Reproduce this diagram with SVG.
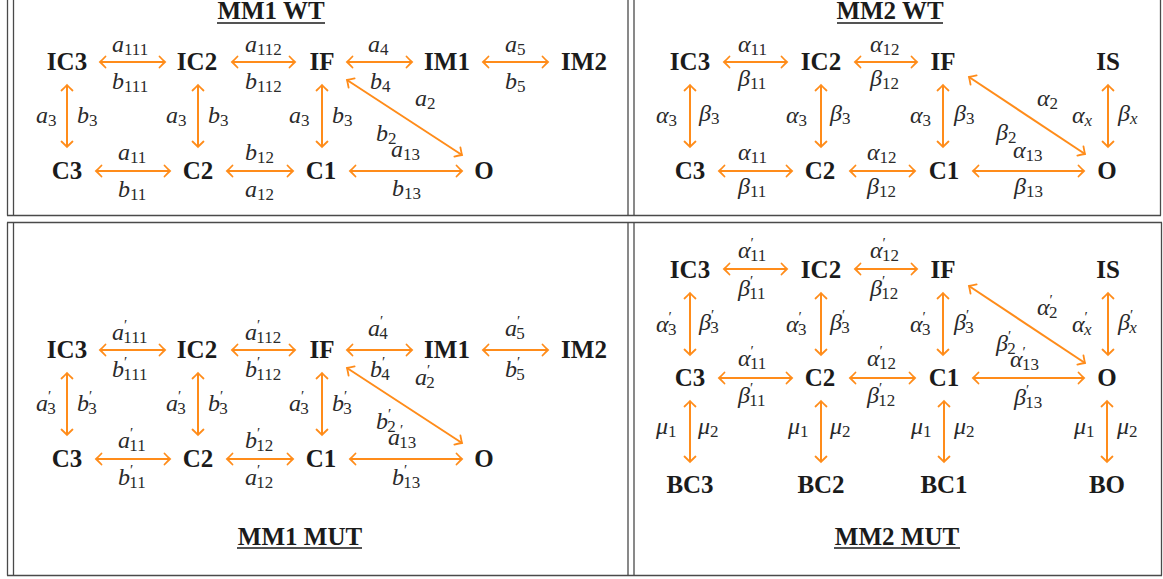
<svg xmlns="http://www.w3.org/2000/svg" width="1163" height="579" viewBox="0 0 1163 579">
<defs>
<marker id="ah" markerUnits="userSpaceOnUse" markerWidth="14" markerHeight="14" viewBox="-8 -7 10 14" refX="0" refY="0" orient="auto-start-reverse">
<path d="M-5.5,-5.5 Q-1.8,-1.6 0,0 Q-1.8,1.6 -5.5,5.5" fill="none" stroke="#FF8C1A" stroke-width="1.8" stroke-linecap="round"/>
</marker>
<style>
.n{font-family:"Liberation Serif","Times New Roman",serif;font-weight:bold;font-size:25px;fill:#1b1b1b;text-anchor:middle}
.m{font-family:"Liberation Serif","Times New Roman",serif;font-style:italic;font-size:24px;fill:#2a2a2a}
.s{font-size:17px;font-style:normal}
.si{font-size:17px;font-style:italic}
.p{font-size:15px;font-style:normal}
.c line{stroke:#FF8C1A;stroke-width:2;fill:none;marker-start:url(#ah);marker-end:url(#ah)}
.g line{stroke:#4a4a4a;stroke-width:1.3}
.u{stroke:#1b1b1b;stroke-width:1.4}
</style>
</defs>
<rect width="1163" height="579" fill="#ffffff"/>

<g id="table" class="g">
<line x1="7.5" y1="0" x2="7.5" y2="215.5"/>
<line x1="13.5" y1="0" x2="13.5" y2="215.5"/>
<line x1="628" y1="0" x2="628" y2="215.5"/>
<line x1="634" y1="0" x2="634" y2="215.5"/>
<line x1="1160.5" y1="0" x2="1160.5" y2="215.5"/>
<line x1="7" y1="215.5" x2="1161" y2="215.5"/>
<line x1="7" y1="222.5" x2="1162" y2="222.5"/>
<line x1="7.5" y1="222.5" x2="7.5" y2="575.5"/>
<line x1="13.5" y1="222.5" x2="13.5" y2="575.5"/>
<line x1="628" y1="222.5" x2="628" y2="575.5"/>
<line x1="634" y1="222.5" x2="634" y2="575.5"/>
<line x1="1161.5" y1="222.5" x2="1161.5" y2="575.5"/>
<line x1="7" y1="575.5" x2="1162" y2="575.5"/>
</g>

<g id="titles">
<text class="n" x="271" y="19">MM1 WT</text><line class="u" x1="217" y1="23" x2="325" y2="23"/>
<text class="n" x="890" y="19">MM2 WT</text><line class="u" x1="837" y1="23" x2="943" y2="23"/>
<text class="n" x="300" y="545">MM1 MUT</text><line class="u" x1="237" y1="548" x2="362" y2="548"/>
<text class="n" x="897" y="545">MM2 MUT</text><line class="u" x1="834" y1="548" x2="960" y2="548"/>
</g>

<!-- MM1 WT nodes -->
<g id="mm1wt-IC3"><text class="n" x="67" y="70">IC3</text></g>
<g id="mm1wt-IC2"><text class="n" x="197" y="70">IC2</text></g>
<g id="mm1wt-IF"><text class="n" x="322" y="70">IF</text></g>
<g id="mm1wt-IM1"><text class="n" x="447" y="70">IM1</text></g>
<g id="mm1wt-IM2"><text class="n" x="584" y="70">IM2</text></g>
<g id="mm1wt-C3"><text class="n" x="67" y="179">C3</text></g>
<g id="mm1wt-C2"><text class="n" x="198" y="179">C2</text></g>
<g id="mm1wt-C1"><text class="n" x="321" y="179">C1</text></g>
<g id="mm1wt-O"><text class="n" x="484" y="179">O</text></g>

<!-- MM1 MUT nodes -->
<g id="mm1mut-IC3"><text class="n" x="67" y="358">IC3</text></g>
<g id="mm1mut-IC2"><text class="n" x="197" y="358">IC2</text></g>
<g id="mm1mut-IF"><text class="n" x="322" y="358">IF</text></g>
<g id="mm1mut-IM1"><text class="n" x="447" y="358">IM1</text></g>
<g id="mm1mut-IM2"><text class="n" x="584" y="358">IM2</text></g>
<g id="mm1mut-C3"><text class="n" x="67" y="467">C3</text></g>
<g id="mm1mut-C2"><text class="n" x="198" y="467">C2</text></g>
<g id="mm1mut-C1"><text class="n" x="321" y="467">C1</text></g>
<g id="mm1mut-O"><text class="n" x="484" y="467">O</text></g>

<!-- MM2 WT nodes -->
<g id="mm2wt-IC3"><text class="n" x="690" y="70">IC3</text></g>
<g id="mm2wt-IC2"><text class="n" x="821" y="70">IC2</text></g>
<g id="mm2wt-IF"><text class="n" x="943" y="70">IF</text></g>
<g id="mm2wt-IS"><text class="n" x="1108" y="70">IS</text></g>
<g id="mm2wt-C3"><text class="n" x="690" y="179">C3</text></g>
<g id="mm2wt-C2"><text class="n" x="820" y="179">C2</text></g>
<g id="mm2wt-C1"><text class="n" x="944" y="179">C1</text></g>
<g id="mm2wt-O"><text class="n" x="1107" y="179">O</text></g>

<!-- MM2 MUT nodes -->
<g id="mm2mut-IC3"><text class="n" x="690" y="278">IC3</text></g>
<g id="mm2mut-IC2"><text class="n" x="821" y="278">IC2</text></g>
<g id="mm2mut-IF"><text class="n" x="943" y="278">IF</text></g>
<g id="mm2mut-IS"><text class="n" x="1108" y="278">IS</text></g>
<g id="mm2mut-C3"><text class="n" x="690" y="386">C3</text></g>
<g id="mm2mut-C2"><text class="n" x="820" y="386">C2</text></g>
<g id="mm2mut-C1"><text class="n" x="944" y="386">C1</text></g>
<g id="mm2mut-O"><text class="n" x="1107" y="386">O</text></g>
<g id="mm2mut-BC3"><text class="n" x="690" y="493">BC3</text></g>
<g id="mm2mut-BC2"><text class="n" x="821" y="493">BC2</text></g>
<g id="mm2mut-BC1"><text class="n" x="944" y="493">BC1</text></g>
<g id="mm2mut-BO"><text class="n" x="1107" y="493">BO</text></g>

<g id="connectors" class="c">
<!-- MM1 WT -->
<line x1="100" y1="62" x2="165" y2="62"/>
<line x1="232" y1="62" x2="295" y2="62"/>
<line x1="347" y1="62" x2="412" y2="62"/>
<line x1="483" y1="62" x2="548" y2="62"/>
<line x1="96" y1="171" x2="170" y2="171"/>
<line x1="227" y1="171" x2="293" y2="171"/>
<line x1="350" y1="171" x2="462" y2="171"/>
<line x1="67" y1="85" x2="67" y2="147"/>
<line x1="198" y1="85" x2="198" y2="147"/>
<line x1="322" y1="85" x2="322" y2="147"/>
<line x1="347" y1="80" x2="462" y2="155"/>
<!-- MM1 MUT -->
<line x1="100" y1="350" x2="165" y2="350"/>
<line x1="232" y1="350" x2="295" y2="350"/>
<line x1="347" y1="350" x2="412" y2="350"/>
<line x1="483" y1="350" x2="548" y2="350"/>
<line x1="96" y1="459" x2="170" y2="459"/>
<line x1="227" y1="459" x2="293" y2="459"/>
<line x1="350" y1="459" x2="462" y2="459"/>
<line x1="67" y1="373" x2="67" y2="435"/>
<line x1="198" y1="373" x2="198" y2="435"/>
<line x1="322" y1="373" x2="322" y2="435"/>
<line x1="347" y1="368" x2="462" y2="443"/>
<!-- MM2 WT -->
<line x1="724" y1="62" x2="787" y2="62"/>
<line x1="855" y1="62" x2="917" y2="62"/>
<line x1="719" y1="171" x2="792" y2="171"/>
<line x1="850" y1="171" x2="915" y2="171"/>
<line x1="973" y1="171" x2="1084" y2="171"/>
<line x1="690" y1="85" x2="690" y2="147"/>
<line x1="821" y1="85" x2="821" y2="147"/>
<line x1="943" y1="85" x2="943" y2="147"/>
<line x1="1108" y1="85" x2="1108" y2="147"/>
<line x1="969" y1="77" x2="1085" y2="154"/>
<!-- MM2 MUT -->
<line x1="724" y1="269" x2="787" y2="269"/>
<line x1="855" y1="269" x2="917" y2="269"/>
<line x1="719" y1="378" x2="792" y2="378"/>
<line x1="850" y1="378" x2="915" y2="378"/>
<line x1="973" y1="378" x2="1084" y2="378"/>
<line x1="690" y1="293" x2="690" y2="355"/>
<line x1="821" y1="293" x2="821" y2="355"/>
<line x1="943" y1="293" x2="943" y2="355"/>
<line x1="1108" y1="293" x2="1108" y2="355"/>
<line x1="969" y1="286" x2="1085" y2="363"/>
<line x1="690" y1="401" x2="690" y2="462"/>
<line x1="821" y1="401" x2="821" y2="462"/>
<line x1="944" y1="401" x2="944" y2="462"/>
<line x1="1107" y1="401" x2="1107" y2="462"/>
</g>

<g id="labels-mm1wt">
<text class="m" x="112" y="52">a<tspan class="s" dy="3">111</tspan></text>
<text class="m" x="112" y="89">b<tspan class="s" dy="3">111</tspan></text>
<text class="m" x="245" y="52">a<tspan class="s" dy="3">112</tspan></text>
<text class="m" x="245" y="89">b<tspan class="s" dy="3">112</tspan></text>
<text class="m" x="368" y="52">a<tspan class="s" dy="3">4</tspan></text>
<text class="m" x="370" y="89">b<tspan class="s" dy="3">4</tspan></text>
<text class="m" x="505" y="52">a<tspan class="s" dy="3">5</tspan></text>
<text class="m" x="505" y="89">b<tspan class="s" dy="3">5</tspan></text>
<text class="m" x="36" y="123">a<tspan class="s" dy="3">3</tspan></text>
<text class="m" x="77" y="123">b<tspan class="s" dy="3">3</tspan></text>
<text class="m" x="166" y="123">a<tspan class="s" dy="3">3</tspan></text>
<text class="m" x="208" y="123">b<tspan class="s" dy="3">3</tspan></text>
<text class="m" x="289" y="123">a<tspan class="s" dy="3">3</tspan></text>
<text class="m" x="332" y="123">b<tspan class="s" dy="3">3</tspan></text>
<text class="m" x="415" y="106">a<tspan class="s" dy="3">2</tspan></text>
<text class="m" x="376" y="141">b<tspan class="s" dy="3">2</tspan></text>
<text class="m" x="391" y="157">a<tspan class="s" dy="3">13</tspan></text>
<text class="m" x="392" y="196">b<tspan class="s" dy="3">13</tspan></text>
<text class="m" x="118" y="160">a<tspan class="s" dy="3">11</tspan></text>
<text class="m" x="118" y="197">b<tspan class="s" dy="3">11</tspan></text>
<text class="m" x="245" y="160">b<tspan class="s" dy="3">12</tspan></text>
<text class="m" x="245" y="197">a<tspan class="s" dy="3">12</tspan></text>
</g>

<g id="labels-mm1mut">
<text class="m" x="112" y="340">a<tspan class="p" dy="-10">′</tspan><tspan class="s" dx="-4" dy="13">111</tspan></text>
<text class="m" x="112" y="377">b<tspan class="p" dy="-10">′</tspan><tspan class="s" dx="-4" dy="13">111</tspan></text>
<text class="m" x="245" y="340">a<tspan class="p" dy="-10">′</tspan><tspan class="s" dx="-4" dy="13">112</tspan></text>
<text class="m" x="245" y="377">b<tspan class="p" dy="-10">′</tspan><tspan class="s" dx="-4" dy="13">112</tspan></text>
<text class="m" x="368" y="336">a<tspan class="p" dy="-10">′</tspan><tspan class="s" dx="-4" dy="13">4</tspan></text>
<text class="m" x="370" y="377">b<tspan class="p" dy="-10">′</tspan><tspan class="s" dx="-4" dy="13">4</tspan></text>
<text class="m" x="505" y="336">a<tspan class="p" dy="-10">′</tspan><tspan class="s" dx="-4" dy="13">5</tspan></text>
<text class="m" x="505" y="377">b<tspan class="p" dy="-10">′</tspan><tspan class="s" dx="-4" dy="13">5</tspan></text>
<text class="m" x="36" y="411">a<tspan class="p" dy="-10">′</tspan><tspan class="s" dx="-4" dy="13">3</tspan></text>
<text class="m" x="77" y="411">b<tspan class="p" dy="-10">′</tspan><tspan class="s" dx="-4" dy="13">3</tspan></text>
<text class="m" x="166" y="411">a<tspan class="p" dy="-10">′</tspan><tspan class="s" dx="-4" dy="13">3</tspan></text>
<text class="m" x="208" y="411">b<tspan class="p" dy="-10">′</tspan><tspan class="s" dx="-4" dy="13">3</tspan></text>
<text class="m" x="289" y="411">a<tspan class="p" dy="-10">′</tspan><tspan class="s" dx="-4" dy="13">3</tspan></text>
<text class="m" x="332" y="411">b<tspan class="p" dy="-10">′</tspan><tspan class="s" dx="-4" dy="13">3</tspan></text>
<text class="m" x="415" y="385">a<tspan class="p" dy="-10">′</tspan><tspan class="s" dx="-4" dy="13">2</tspan></text>
<text class="m" x="376" y="429">b<tspan class="p" dy="-10">′</tspan><tspan class="s" dx="-4" dy="13">2</tspan></text>
<text class="m" x="388" y="445">a<tspan class="p" dy="-10">′</tspan><tspan class="s" dx="-4" dy="13">13</tspan></text>
<text class="m" x="392" y="485">b<tspan class="p" dy="-10">′</tspan><tspan class="s" dx="-4" dy="13">13</tspan></text>
<text class="m" x="118" y="448">a<tspan class="p" dy="-10">′</tspan><tspan class="s" dx="-4" dy="13">11</tspan></text>
<text class="m" x="118" y="485">b<tspan class="p" dy="-10">′</tspan><tspan class="s" dx="-4" dy="13">11</tspan></text>
<text class="m" x="245" y="448">b<tspan class="p" dy="-10">′</tspan><tspan class="s" dx="-4" dy="13">12</tspan></text>
<text class="m" x="245" y="485">a<tspan class="p" dy="-10">′</tspan><tspan class="s" dx="-4" dy="13">12</tspan></text>
</g>

<g id="labels-mm2wt">
<text class="m" x="738" y="52">α<tspan class="s" dy="3">11</tspan></text>
<text class="m" x="738" y="86">β<tspan class="s" dy="3">11</tspan></text>
<text class="m" x="870" y="52">α<tspan class="s" dy="3">12</tspan></text>
<text class="m" x="870" y="86">β<tspan class="s" dy="3">12</tspan></text>
<text class="m" x="656" y="123">α<tspan class="s" dy="3">3</tspan></text>
<text class="m" x="699" y="121">β<tspan class="s" dy="3">3</tspan></text>
<text class="m" x="786" y="123">α<tspan class="s" dy="3">3</tspan></text>
<text class="m" x="830" y="121">β<tspan class="s" dy="3">3</tspan></text>
<text class="m" x="910" y="123">α<tspan class="s" dy="3">3</tspan></text>
<text class="m" x="954" y="121">β<tspan class="s" dy="3">3</tspan></text>
<text class="m" x="1037" y="106">α<tspan class="s" dy="3">2</tspan></text>
<text class="m" x="1072" y="123">α<tspan class="si" dy="3">x</tspan></text>
<text class="m" x="1118" y="121">β<tspan class="si" dy="3">x</tspan></text>
<text class="m" x="996" y="140">β<tspan class="s" dy="3">2</tspan></text>
<text class="m" x="1013" y="158">α<tspan class="s" dy="3">13</tspan></text>
<text class="m" x="1014" y="194">β<tspan class="s" dy="3">13</tspan></text>
<text class="m" x="738" y="160">α<tspan class="s" dy="3">11</tspan></text>
<text class="m" x="738" y="194">β<tspan class="s" dy="3">11</tspan></text>
<text class="m" x="867" y="160">α<tspan class="s" dy="3">12</tspan></text>
<text class="m" x="867" y="194">β<tspan class="s" dy="3">12</tspan></text>
</g>

<g id="labels-mm2mut">
<text class="m" x="738" y="258">α<tspan class="p" dy="-10">′</tspan><tspan class="s" dx="-4" dy="13">11</tspan></text>
<text class="m" x="738" y="296">β<tspan class="p" dy="-10">′</tspan><tspan class="s" dx="-4" dy="13">11</tspan></text>
<text class="m" x="870" y="258">α<tspan class="p" dy="-10">′</tspan><tspan class="s" dx="-4" dy="13">12</tspan></text>
<text class="m" x="870" y="296">β<tspan class="p" dy="-10">′</tspan><tspan class="s" dx="-4" dy="13">12</tspan></text>
<text class="m" x="656" y="332">α<tspan class="p" dy="-10">′</tspan><tspan class="s" dx="-4" dy="13">3</tspan></text>
<text class="m" x="699" y="330">β<tspan class="p" dy="-10">′</tspan><tspan class="s" dx="-4" dy="13">3</tspan></text>
<text class="m" x="786" y="332">α<tspan class="p" dy="-10">′</tspan><tspan class="s" dx="-4" dy="13">3</tspan></text>
<text class="m" x="830" y="330">β<tspan class="p" dy="-10">′</tspan><tspan class="s" dx="-4" dy="13">3</tspan></text>
<text class="m" x="910" y="332">α<tspan class="p" dy="-10">′</tspan><tspan class="s" dx="-4" dy="13">3</tspan></text>
<text class="m" x="954" y="330">β<tspan class="p" dy="-10">′</tspan><tspan class="s" dx="-4" dy="13">3</tspan></text>
<text class="m" x="1037" y="315">α<tspan class="p" dy="-10">′</tspan><tspan class="s" dx="-4" dy="13">2</tspan></text>
<text class="m" x="1072" y="332">α<tspan class="p" dy="-10">′</tspan><tspan class="si" dx="-4" dy="13">x</tspan></text>
<text class="m" x="1118" y="330">β<tspan class="p" dy="-10">′</tspan><tspan class="si" dx="-4" dy="13">x</tspan></text>
<text class="m" x="996" y="351">β<tspan class="p" dy="-10">′</tspan><tspan class="s" dx="-4" dy="13">2</tspan></text>
<text class="m" x="1010" y="367">α<tspan class="p" dy="-10">′</tspan><tspan class="s" dx="-4" dy="13">13</tspan></text>
<text class="m" x="1014" y="405">β<tspan class="p" dy="-10">′</tspan><tspan class="s" dx="-4" dy="13">13</tspan></text>
<text class="m" x="738" y="366">α<tspan class="p" dy="-10">′</tspan><tspan class="s" dx="-4" dy="13">11</tspan></text>
<text class="m" x="738" y="403">β<tspan class="p" dy="-10">′</tspan><tspan class="s" dx="-4" dy="13">11</tspan></text>
<text class="m" x="867" y="366">α<tspan class="p" dy="-10">′</tspan><tspan class="s" dx="-4" dy="13">12</tspan></text>
<text class="m" x="867" y="403">β<tspan class="p" dy="-10">′</tspan><tspan class="s" dx="-4" dy="13">12</tspan></text>
<text class="m" x="656" y="434">μ<tspan class="s" dy="3">1</tspan></text>
<text class="m" x="698" y="434">μ<tspan class="s" dy="3">2</tspan></text>
<text class="m" x="788" y="434">μ<tspan class="s" dy="3">1</tspan></text>
<text class="m" x="830" y="434">μ<tspan class="s" dy="3">2</tspan></text>
<text class="m" x="911" y="434">μ<tspan class="s" dy="3">1</tspan></text>
<text class="m" x="954" y="434">μ<tspan class="s" dy="3">2</tspan></text>
<text class="m" x="1074" y="434">μ<tspan class="s" dy="3">1</tspan></text>
<text class="m" x="1117" y="434">μ<tspan class="s" dy="3">2</tspan></text>
</g>
</svg>
